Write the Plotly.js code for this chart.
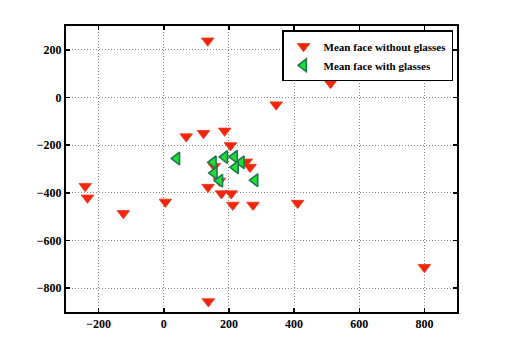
<!DOCTYPE html>
<html>
<head>
<meta charset="utf-8">
<script src="https://cdn.plot.ly/plotly-3.0.1.min.js"></script>
<style>html,body{margin:0;padding:0;background:#fff;}#chart{width:505px;height:351px;}</style>
</head>
<body>
<div id="chart"></div>
<script>
// Mean face without glasses (red, triangle-down)
const withoutX = [135, 345, 512, 69, 122, 187, 205, 253, 265, 155, 171, 136, 177, 207, 212, 274, 5, -241, -234, -124, 137, 411, 800];
const withoutY = [238, -30, 60, -164, -150, -140, -201, -270, -292, -288, -350, -376, -403, -403, -451, -451, -438, -372, -421, -486, -856, -443, -712];
// Mean face with glasses (green, triangle-left)
const withX = [40, 152, 187, 217, 238, 220, 155, 172, 280];
const withY = [-256, -272, -250, -249, -272, -293, -317, -349, -347];

const seriesNames = ['Mean face without glasses', 'Mean face with glasses'];
const xTicks = [-200, 0, 200, 400, 600, 800];
const yTicks = [-800, -600, -400, -200, 0, 200];

const fontFam = 'Liberation Serif';

const traces = [
  {
    x: withoutX, y: withoutY, mode: 'markers', type: 'scatter', name: seriesNames[0],
    marker: {symbol: 'triangle-down', size: 11, color: '#f5240a', line: {color: '#ea3a1c', width: 0.8}}
  },
  {
    x: withX, y: withY, mode: 'markers', type: 'scatter', name: seriesNames[1],
    marker: {symbol: 'triangle-left', size: 11, color: '#22dd33', line: {color: '#1e7a4e', width: 1.6}}
  }
];

function axis(range, ticks) {
  return {
    range: range, tickvals: ticks, tickmode: 'array',
    showline: true, linecolor: '#000', linewidth: 2, mirror: 'ticks',
    ticks: 'inside', ticklen: 4, tickwidth: 1.5, tickcolor: '#000',
    showgrid: true, gridcolor: '#888888', gridwidth: 1, griddash: '1px,2px',
    zeroline: false,
    tickfont: {family: fontFam, size: 12, color: '#000', weight: 'bold'}
  };
}

const layout = {
  width: 505, height: 351,
  margin: {l: 66, r: 48, t: 26, b: 39},
  paper_bgcolor: '#fff', plot_bgcolor: '#fff',
  font: {family: fontFam, size: 12, color: '#000', weight: 'bold'},
  showlegend: true,
  xaxis: axis([-300, 900], xTicks),
  yaxis: axis([-900, 300], yTicks),
  legend: {
    x: 0.99, y: 0.985, xanchor: 'right', yanchor: 'top',
    bgcolor: '#fff', bordercolor: '#000', borderwidth: 1.5,
    font: {family: fontFam, size: 11, color: '#000', weight: 'bold'},
    tracegroupgap: 0, itemwidth: 30
  }
};

Plotly.newPlot('chart', traces, layout, {displayModeBar: false, staticPlot: true}).then(function () {
  // make sure tick labels use the bold serif face
  document.querySelectorAll('.xtick text, .ytick text').forEach(function (t) {
    t.style.fontFamily = '"Liberation Serif", serif';
    t.style.fontWeight = '700';
    t.style.fill = '#000';
  });
});
</script>
</body>
</html>
